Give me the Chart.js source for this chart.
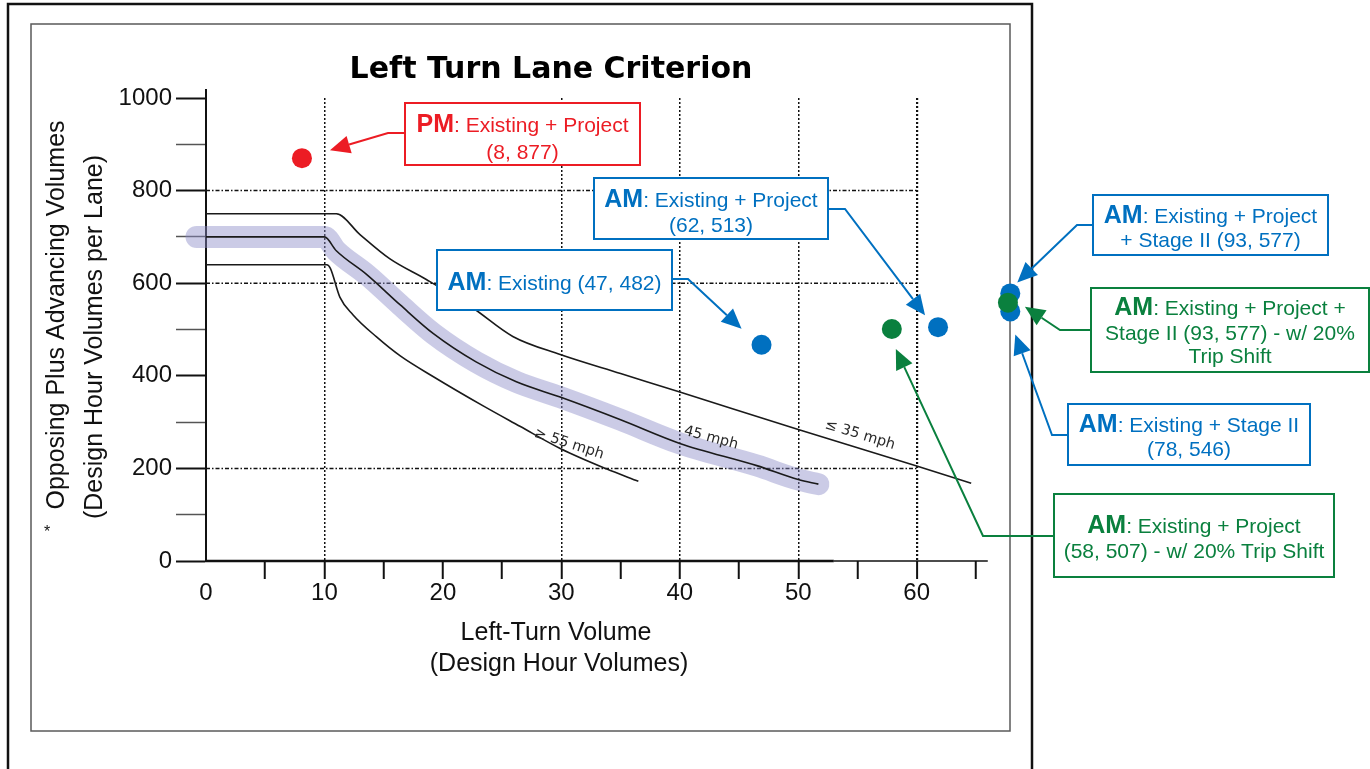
<!DOCTYPE html>
<html>
<head>
    <title>Left Turn Lane Criterion</title>
    <script src="https://cdn.jsdelivr.net/npm/chart.js"></script>
    <style>
        body { margin: 0; background: #fff; }
        canvas { display: block; }
    </style>
</head>
<body>
    <canvas id="laneChart" width="1370" height="769"></canvas>

    <script>
        // Values: x = left-turn volume, y = opposing + advancing volume per lane
        const speed35X = [0, 11.0, 13.0, 15.5, 18.6, 22.5, 25.9, 29.9, 35, 40, 50, 60, 64.6];
        const speed35Y = [750, 750, 705, 653, 608, 547, 485, 446, 405, 365, 284, 205, 168];
        const speed45X = [0, 10, 11.0, 13.6, 16.4, 19.2, 22.8, 26.2, 29.9, 35, 40, 46.5, 50, 51.7];
        const speed45Y = [700, 700, 670, 618, 553, 491, 430, 387, 354, 305, 254, 206, 176, 166];
        const speed55X = [0, 10.2, 10.5, 11.3, 12.4, 14.4, 16.4, 19.2, 23.4, 26.5, 29.9, 33.8, 36.5];
        const speed55Y = [640, 640, 632, 570, 532, 484, 443, 398, 335, 291, 243, 199, 172];
        // highlight band follows the 45 mph curve and starts a bit left of the axis
        const bandStartX = -0.8;

        // scenario points (the off-scale ones sit on the right edge of the figure)
        const pmX = [8.1];
        const pmY = [870];
        const amBlueX = [46.9, 61.8, 67.9, 67.9];
        const amBlueY = [467, 505, 578, 539];
        const amGreenX = [57.9, 67.7];
        const amGreenY = [501, 558];

        const xTicks = [0, 5, 10, 15, 20, 25, 30, 35, 40, 45, 50, 55, 60, 65];
        const xLabels = [0, 10, 20, 30, 40, 50, 60];
        const yLabels = [0, 200, 400, 600, 800, 1000];
        const vGrid = [10, 30, 40, 50, 60];
        const hGrid = [200, 600, 800];

        const RED = '#ec1c24';
        const BLUE = '#0070c0';
        const GREEN = '#0a803e';
        const BOLD = 'bold 25px "Liberation Sans"';
        const REG = '21px "Liberation Sans"';

        const curveLabels = [
            { text: '\u2265 55 mph', x: 569, y: 444, angle: 18 },
            { text: '45 mph', x: 711, y: 438, angle: 15 },
            { text: '\u2264 35 mph', x: 860, y: 435, angle: 17 }
        ];

        // callout boxes: box in px, text baselines, leader path from box, arrow aimed at a point
        const notes = [
            { color: RED, box: [405, 103, 640, 165], lines: ['PM: Existing + Project', '(8, 877)'], base: [132, 159],
              path: [[405, 133], [388, 133]], at: [pmX[0], pmY[0]], off: [28, -8] },
            { color: BLUE, box: [437, 250, 672, 310], lines: ['AM: Existing (47, 482)'], base: [290],
              path: [[672, 279], [688, 279]], at: [amBlueX[0], amBlueY[0]], off: [-20, -16] },
            { color: BLUE, box: [594, 178, 828, 239], lines: ['AM: Existing + Project', '(62, 513)'], base: [207, 232],
              path: [[828, 209], [845, 209]], at: [amBlueX[1], amBlueY[1]], off: [-13, -12] },
            { color: BLUE, box: [1093, 195, 1328, 255], lines: ['AM: Existing + Project', '+ Stage II (93, 577)'], base: [223, 247],
              path: [[1093, 225], [1077, 225]], at: [amBlueX[2], amBlueY[2]], off: [7, -11] },
            { color: GREEN, box: [1091, 288, 1369, 372], lines: ['AM: Existing + Project +', 'Stage II (93, 577) - w/ 20%', 'Trip Shift'], base: [315, 340, 363],
              path: [[1091, 330], [1060, 330]], at: [amGreenX[1], amGreenY[1]], off: [17, 4] },
            { color: BLUE, box: [1068, 404, 1310, 465], lines: ['AM: Existing + Stage II', '(78, 546)'], base: [432, 456],
              path: [[1068, 435], [1052, 435]], at: [amBlueX[3], amBlueY[3]], off: [5, 23] },
            { color: GREEN, box: [1054, 494, 1334, 577], lines: ['AM: Existing + Project', '(58, 507) - w/ 20% Trip Shift'], base: [533, 558],
              path: [[1054, 536], [983, 536]], at: [amGreenX[0], amGreenY[0]], off: [4, 20] }
        ];

        const toPoints = (xs, ys) => xs.map((x, i) => ({ x: x, y: ys[i] }));

        function curve(xs, ys) {
            return {
                data: toPoints(xs, ys),
                showLine: true,
                pointRadius: 0,
                borderColor: '#1a1a1a',
                borderWidth: 1.6,
                cubicInterpolationMode: 'monotone',
                clip: false
            };
        }

        function dots(xs, ys, color) {
            return {
                data: toPoints(xs, ys),
                pointRadius: 10,
                pointBackgroundColor: color,
                pointBorderColor: color,
                pointBorderWidth: 0,
                clip: false
            };
        }

        function drawRich(ctx, text, cx, by, color) {
            const m = text.match(/^(AM|PM)(:.*)$/);
            const parts = m ? [[m[1], BOLD], [m[2], REG]] : [[text, REG]];
            let w = 0;
            parts.forEach(p => { ctx.font = p[1]; w += ctx.measureText(p[0]).width; });
            let px = cx - w / 2;
            ctx.fillStyle = color;
            ctx.textAlign = 'left';
            ctx.textBaseline = 'alphabetic';
            parts.forEach(p => {
                ctx.font = p[1];
                ctx.fillText(p[0], px, by);
                px += ctx.measureText(p[0]).width;
            });
        }

        function drawArrow(ctx, pts, color) {
            const n = pts.length;
            const tip = pts[n - 1], prev = pts[n - 2];
            const a = Math.atan2(tip[1] - prev[1], tip[0] - prev[0]);
            const L = 20, W = 9;
            const bx = tip[0] - L * Math.cos(a), by = tip[1] - L * Math.sin(a);
            ctx.strokeStyle = color;
            ctx.fillStyle = color;
            ctx.lineWidth = 2;
            ctx.beginPath();
            ctx.moveTo(pts[0][0], pts[0][1]);
            for (let i = 1; i < n - 1; i++) ctx.lineTo(pts[i][0], pts[i][1]);
            ctx.lineTo(bx, by);
            ctx.stroke();
            ctx.beginPath();
            ctx.moveTo(tip[0], tip[1]);
            ctx.lineTo(bx + W * Math.sin(a), by - W * Math.cos(a));
            ctx.lineTo(bx - W * Math.sin(a), by + W * Math.cos(a));
            ctx.closePath();
            ctx.fill();
        }

        const decor = {
            id: 'decor',
            beforeDraw(chart) {
                const ctx = chart.ctx;
                ctx.save();
                ctx.fillStyle = '#fff';
                ctx.fillRect(0, 0, chart.width, chart.height);
                // outer page frame
                ctx.strokeStyle = '#111';
                ctx.lineWidth = 2.5;
                ctx.beginPath();
                ctx.moveTo(8, 769);
                ctx.lineTo(8, 4);
                ctx.lineTo(1032, 4);
                ctx.lineTo(1032, 769);
                ctx.stroke();
                // figure frame
                ctx.strokeStyle = '#5a5a5a';
                ctx.lineWidth = 1.5;
                ctx.strokeRect(31, 24, 979, 707);
                ctx.restore();
            },
            beforeDatasetsDraw(chart) {
                const { ctx, scales: { x, y } } = chart;
                ctx.save();
                // horizontal dash-dot grid only runs to 60
                ctx.strokeStyle = '#111';
                ctx.lineWidth = 1.5;
                ctx.setLineDash([4, 2, 1.5, 2]);
                hGrid.forEach(v => {
                    const py = y.getPixelForValue(v);
                    ctx.beginPath();
                    ctx.moveTo(x.getPixelForValue(0), py);
                    ctx.lineTo(x.getPixelForValue(60), py);
                    ctx.stroke();
                });
                ctx.setLineDash([]);
                // x axis line, stops around 66
                const y0 = y.getPixelForValue(0);
                ctx.strokeStyle = '#111';
                ctx.lineWidth = 2.5;
                ctx.beginPath();
                ctx.moveTo(x.getPixelForValue(0) - 1, y0);
                ctx.lineTo(x.getPixelForValue(53), y0);
                ctx.stroke();
                ctx.lineWidth = 1.5;
                ctx.beginPath();
                ctx.moveTo(x.getPixelForValue(53), y0);
                ctx.lineTo(x.getPixelForValue(66), y0);
                ctx.stroke();
                // y axis pokes a little above 1000
                const xl = x.getPixelForValue(0), yt = y.getPixelForValue(1000);
                ctx.lineWidth = 2;
                ctx.beginPath();
                ctx.moveTo(xl, yt);
                ctx.lineTo(xl, yt - 9);
                ctx.stroke();
                ctx.restore();
            },
            afterDraw(chart) {
                const { ctx, scales: { x, y } } = chart;
                ctx.save();

                ctx.fillStyle = '#000';
                ctx.textAlign = 'center';
                ctx.textBaseline = 'alphabetic';
                ctx.font = 'bold 30px "DejaVu Sans"';
                ctx.fillText('Left Turn Lane Criterion', 551, 78);

                ctx.fillStyle = '#111';
                ctx.font = '25px "Liberation Sans"';
                ctx.fillText('Left-Turn Volume', 556, 640);
                ctx.fillText('(Design Hour Volumes)', 559, 671);

                ctx.save();
                ctx.translate(63.5, 315);
                ctx.rotate(-Math.PI / 2);
                ctx.fillText('Opposing Plus Advancing Volumes', 0, 0);
                ctx.restore();
                ctx.save();
                ctx.translate(101.5, 337);
                ctx.rotate(-Math.PI / 2);
                ctx.fillText('(Design Hour Volumes per Lane)', 0, 0);
                ctx.restore();

                ctx.font = '16px "Liberation Sans"';
                ctx.fillText('*', 47, 537);

                // speed labels along the curves
                ctx.fillStyle = '#2a2a2a';
                ctx.font = '14.5px "DejaVu Sans"';
                ctx.textBaseline = 'middle';
                curveLabels.forEach(l => {
                    ctx.save();
                    ctx.translate(l.x, l.y);
                    ctx.rotate(l.angle * Math.PI / 180);
                    ctx.fillText(l.text, 0, 0);
                    ctx.restore();
                });

                // callouts
                notes.forEach(n => {
                    const tip = [x.getPixelForValue(n.at[0]) + n.off[0], y.getPixelForValue(n.at[1]) + n.off[1]];
                    drawArrow(ctx, n.path.concat([tip]), n.color);
                    const [x1, y1, x2, y2] = n.box;
                    ctx.fillStyle = '#fff';
                    ctx.fillRect(x1, y1, x2 - x1, y2 - y1);
                    ctx.strokeStyle = n.color;
                    ctx.lineWidth = 2;
                    ctx.strokeRect(x1, y1, x2 - x1, y2 - y1);
                    n.lines.forEach((t, i) => drawRich(ctx, t, (x1 + x2) / 2, n.base[i], n.color));
                });

                ctx.restore();
            }
        };

        const ctx = document.getElementById('laneChart').getContext('2d');
        new Chart(ctx, {
            type: 'scatter',
            data: {
                datasets: [
                    dots(amGreenX, amGreenY, GREEN),
                    dots(amBlueX, amBlueY, BLUE),
                    dots(pmX, pmY, RED),
                    curve(speed35X, speed35Y),
                    curve(speed45X, speed45Y),
                    curve(speed55X, speed55Y),
                    {
                        data: toPoints([bandStartX].concat(speed45X), [speed45Y[0]].concat(speed45Y)),
                        showLine: true,
                        pointRadius: 0,
                        borderColor: 'rgba(140,140,200,0.45)',
                        borderWidth: 22,
                        borderCapStyle: 'round',
                        borderJoinStyle: 'round',
                        cubicInterpolationMode: 'monotone',
                        clip: false
                    }
                ]
            },
            options: {
                responsive: false,
                animation: false,
                events: [],
                layout: { padding: { top: 98, right: 352.6, bottom: 0, left: 0 } },
                plugins: {
                    legend: { display: false },
                    tooltip: { enabled: false },
                    title: { display: false }
                },
                scales: {
                    x: {
                        type: 'linear',
                        min: 0,
                        max: 68.5,
                        afterBuildTicks: s => { s.ticks = xTicks.map(v => ({ value: v })); },
                        afterFit: s => { s.height = 208; },
                        ticks: {
                            autoSkip: false,
                            maxRotation: 0,
                            padding: 0,
                            color: '#111',
                            font: { family: 'Liberation Sans', size: 24 },
                            callback: v => xLabels.includes(v) ? String(v) : ''
                        },
                        grid: {
                            color: c => c.tick && vGrid.includes(c.tick.value) ? '#111' : 'rgba(0,0,0,0)',
                            lineWidth: c => c.tick && c.tick.value === 60 ? 2.2 : 1.5,
                            tickColor: c => c.tick && c.tick.value === 0 ? 'rgba(0,0,0,0)' : '#111',
                            tickLength: 18,
                            tickWidth: 2
                        },
                        border: { display: false, dash: [2, 2] }
                    },
                    y: {
                        type: 'linear',
                        min: 0,
                        max: 1000,
                        afterFit: s => { s.width = 206; },
                        ticks: {
                            stepSize: 100,
                            padding: 4,
                            color: '#111',
                            font: { family: 'Liberation Sans', size: 24 },
                            callback: v => yLabels.includes(v) ? String(v) : ''
                        },
                        grid: {
                            drawOnChartArea: false,
                            tickLength: 30,
                            tickWidth: c => c.tick && yLabels.includes(c.tick.value) ? 2 : 1.5,
                            tickColor: c => c.tick && yLabels.includes(c.tick.value) ? '#111' : '#555'
                        },
                        border: { color: '#111', width: 2 }
                    }
                }
            },
            plugins: [decor]
        });
    </script>
</body>
</html>
